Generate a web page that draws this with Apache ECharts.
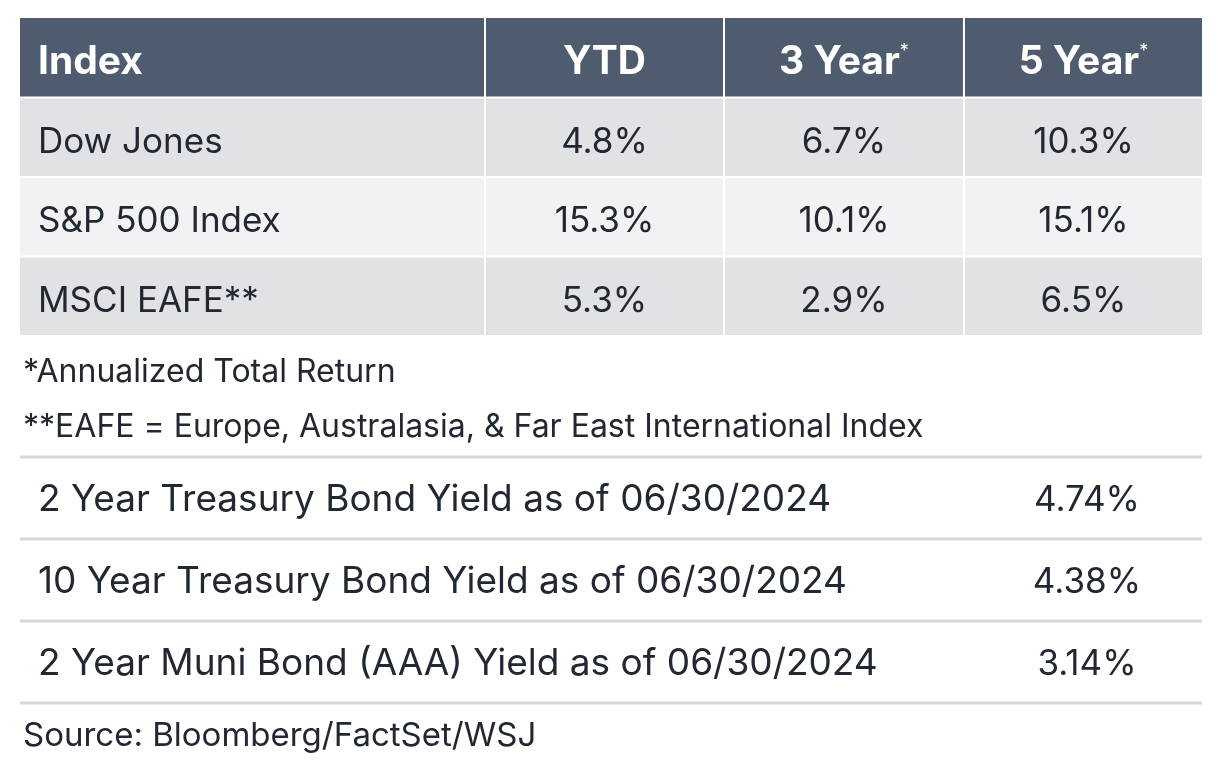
<!DOCTYPE html>
<html>
<head>
<meta charset="utf-8">
<script src="https://cdn.jsdelivr.net/npm/echarts@6/dist/echarts.min.js"></script>
<style>
  html, body { margin: 0; padding: 0; background: #fff; }
  #chart { width: 1226px; height: 770px; }
</style>
</head>
<body>
<div id="chart"></div>
<script>
var headers = ['Index', 'YTD', '3 Year', '5 Year'];
var indexNames = ['Dow Jones', 'S&P 500 Index', 'MSCI EAFE**'];
var ytd = ['4.8%', '15.3%', '5.3%'];
var threeYear = ['6.7%', '10.1%', '2.9%'];
var fiveYear = ['10.3%', '15.1%', '6.5%'];

var bondLabels = [
  '2 Year Treasury Bond Yield as of 06/30/2024',
  '10 Year Treasury Bond Yield as of 06/30/2024',
  '2 Year Muni Bond (AAA) Yield as of 06/30/2024'
];
var bondYields = ['4.74%', '4.38%', '3.14%'];

var notes = ['*Annualized Total Return', '**EAFE = Europe, Australasia, & Far East International Index'];
var source = 'Source: Bloomberg/FactSet/WSJ';

// column edges as share of table width
var colEdges = [0, 0.3934, 0.5956, 0.7986, 1];
var FONT = 'Inter, "Noto Sans", sans-serif';

var myChart = echarts.init(document.getElementById('chart'));

// cells of top table: [row, col, text]
var cells = [];
headers.forEach(function (h, c) { cells.push([0, c, h]); });
for (var i = 0; i < indexNames.length; i++) {
  cells.push([i + 1, 0, indexNames[i]]);
  cells.push([i + 1, 1, ytd[i]]);
  cells.push([i + 1, 2, threeYear[i]]);
  cells.push([i + 1, 3, fiveYear[i]]);
}

function renderCell(params, api) {
  var cs = params.coordSys;
  var row = api.value(0), col = api.value(1);
  var text = cells[params.dataIndex][2];
  var cy = api.coord([0, row])[1];
  var bh = api.size([0, 1])[1];
  var x0 = cs.x + colEdges[col] * cs.width + (col > 0 ? 1 : 0);
  var x1 = cs.x + colEdges[col + 1] * cs.width - (col < 3 ? 1 : 0);
  var y0 = cy - bh / 2 + (row > 0 ? 1 : 0);
  var y1 = cy + bh / 2 - 1;
  var fill = row === 0 ? '#4f5b6e' : (row % 2 === 1 ? '#e1e2e5' : '#f2f2f4');
  var isHead = row === 0;
  var t = text;
  if (isHead && (col === 2 || col === 3)) t = text + '{sup|*}';
  return {
    type: 'group',
    children: [
      { type: 'rect', shape: { x: x0, y: y0, width: x1 - x0, height: y1 - y0 }, style: { fill: fill } },
      {
        type: 'text',
        style: {
          x: col === 0 ? x0 + 18 : (x0 + x1) / 2,
          y: (y0 + y1) / 2 + 5,
          text: t,
          align: col === 0 ? 'left' : 'center',
          verticalAlign: 'middle',
          fill: isHead ? '#ffffff' : '#222831',
          font: (isHead ? 'bold 39px ' : '35px ') + FONT,
          rich: { sup: { fill: '#ffffff', font: '18px ' + FONT, verticalAlign: 'top', padding: [0, 0, 20, 0] } }
        }
      }
    ]
  };
}

function renderBond(params, api) {
  var cs = params.coordSys;
  var row = api.value(0);
  var cy = api.coord([0, row])[1];
  var bh = api.size([0, 1])[1];
  var y0 = cy - bh / 2;
  var children = [
    { type: 'rect', shape: { x: cs.x, y: y0 - 1.5, width: cs.width, height: 3 }, style: { fill: '#d6d7da' } },
    { type: 'text', style: { x: cs.x + 18, y: cy + 2, text: bondLabels[row], align: 'left', verticalAlign: 'middle', fill: '#222831', font: '37px ' + FONT } },
    { type: 'text', style: { x: cs.x + (colEdges[3] + colEdges[4]) / 2 * cs.width + 4, y: cy + 2, text: bondYields[row], align: 'center', verticalAlign: 'middle', fill: '#222831', font: '35px ' + FONT } }
  ];
  if (row === bondLabels.length - 1) {
    children.push({ type: 'rect', shape: { x: cs.x, y: y0 + bh - 1.5, width: cs.width, height: 3 }, style: { fill: '#d6d7da' } });
  }
  return { type: 'group', children: children };
}

var rowIdx = [0, 1, 2, 3];
var bondIdx = bondLabels.map(function (_, i) { return i; });

myChart.setOption({
  animation: false,
  title: [
    { text: notes[0], left: 18, top: 351, textStyle: { fontSize: 32, fontWeight: 'normal', color: '#222831', fontFamily: FONT } },
    { text: notes[1], left: 18, top: 406, textStyle: { fontSize: 32, fontWeight: 'normal', color: '#222831', fontFamily: FONT } },
    { text: source, left: 18, top: 715, textStyle: { fontSize: 33, fontWeight: 'normal', color: '#222831', fontFamily: FONT } }
  ],
  grid: [
    { left: 20, right: 24, top: 18, height: 318 },
    { left: 20, right: 24, top: 457, height: 246 }
  ],
  xAxis: [
    { type: 'value', min: 0, max: 1, show: false, gridIndex: 0 },
    { type: 'value', min: 0, max: 1, show: false, gridIndex: 1 }
  ],
  yAxis: [
    { type: 'category', data: rowIdx, inverse: true, show: false, gridIndex: 0 },
    { type: 'category', data: bondIdx, inverse: true, show: false, gridIndex: 1 }
  ],
  series: [
    { type: 'custom', xAxisIndex: 0, yAxisIndex: 0, renderItem: renderCell,
      data: cells.map(function (c) { return [c[0], c[1]]; }), encode: { y: 0, x: 1 } },
    { type: 'custom', xAxisIndex: 1, yAxisIndex: 1, renderItem: renderBond,
      data: bondIdx.map(function (i) { return [i]; }), encode: { y: 0 } }
  ]
});
</script>
</body>
</html>
